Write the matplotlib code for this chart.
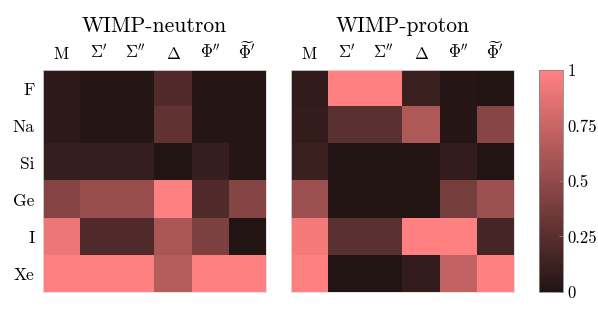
import numpy as np
import matplotlib
matplotlib.use("Agg")
import matplotlib.pyplot as plt
from matplotlib.colors import LinearSegmentedColormap

plt.rcParams['font.family'] = 'cmr10'
plt.rcParams['mathtext.fontset'] = 'cm'
plt.rcParams['axes.unicode_minus'] = False

# data
targets = ["F", "Na", "Si", "Ge", "I", "Xe"]
operators = [r"$\mathrm{M}$", r"$\Sigma'$", r"$\Sigma''$", r"$\Delta$", r"$\Phi''$", r"$\widetilde{\Phi}'$"]

neutron = [
    [0.06, 0.02, 0.02, 0.21, 0.02, 0.02],
    [0.06, 0.02, 0.02, 0.29, 0.02, 0.02],
    [0.10, 0.10, 0.10, 0.01, 0.10, 0.02],
    [0.45, 0.54, 0.54, 1.00, 0.21, 0.44],
    [0.92, 0.21, 0.21, 0.62, 0.42, 0.01],
    [1.00, 1.00, 1.00, 0.66, 1.00, 1.00],
]
proton = [
    [0.07, 1.00, 1.00, 0.12, 0.02, 0.01],
    [0.09, 0.25, 0.25, 0.64, 0.02, 0.46],
    [0.11, 0.01, 0.01, 0.01, 0.08, 0.01],
    [0.56, 0.01, 0.01, 0.01, 0.38, 0.55],
    [0.94, 0.25, 0.25, 1.00, 1.00, 0.17],
    [1.00, 0.01, 0.01, 0.09, 0.72, 1.00],
]
titles = ["WIMP-neutron", "WIMP-proton"]
cbar_ticks = [0, 0.25, 0.5, 0.75, 1]
cbar_labels = ["0", "0.25", "0.5", "0.75", "1"]

cmap = LinearSegmentedColormap.from_list("pinkish", ["#231414", "#ff8080"], N=64)

fig = plt.figure(figsize=(5.98, 3.26), dpi=100)
ax1 = fig.add_axes([0.0719, 0.1043, 0.3729, 0.681])
ax2 = fig.add_axes([0.4866, 0.1043, 0.3729, 0.681])
cax = fig.add_axes([0.9013, 0.1043, 0.0401, 0.681])

for ax, data, title in zip([ax1, ax2], [neutron, proton], titles):
    im = ax.imshow(np.array(data), cmap=cmap, vmin=0, vmax=1, aspect='auto',
                   interpolation='nearest')
    ax.set_xticks(range(len(operators)))
    ax.set_xticklabels(operators, fontsize=12)
    ax.xaxis.tick_top()
    ax.set_yticks(range(len(targets)))
    if ax is ax1:
        ax.set_yticklabels(targets, fontsize=12.5)
    else:
        ax.set_yticklabels([])
    ax.tick_params(length=0, pad=6)
    ax.set_title(title, fontsize=15.5, pad=27)
    for s in ax.spines.values():
        s.set_color('#dddddd')
        s.set_linewidth(0.6)

cb = fig.colorbar(im, cax=cax, ticks=cbar_ticks)
cb.ax.set_yticklabels(cbar_labels, fontsize=12)
cb.ax.tick_params(length=3, width=0.6, color='#888888', direction='in', pad=3)
cb.outline.set_edgecolor('#888888')
cb.outline.set_linewidth(0.6)

fig.savefig("out.png", dpi=100)
